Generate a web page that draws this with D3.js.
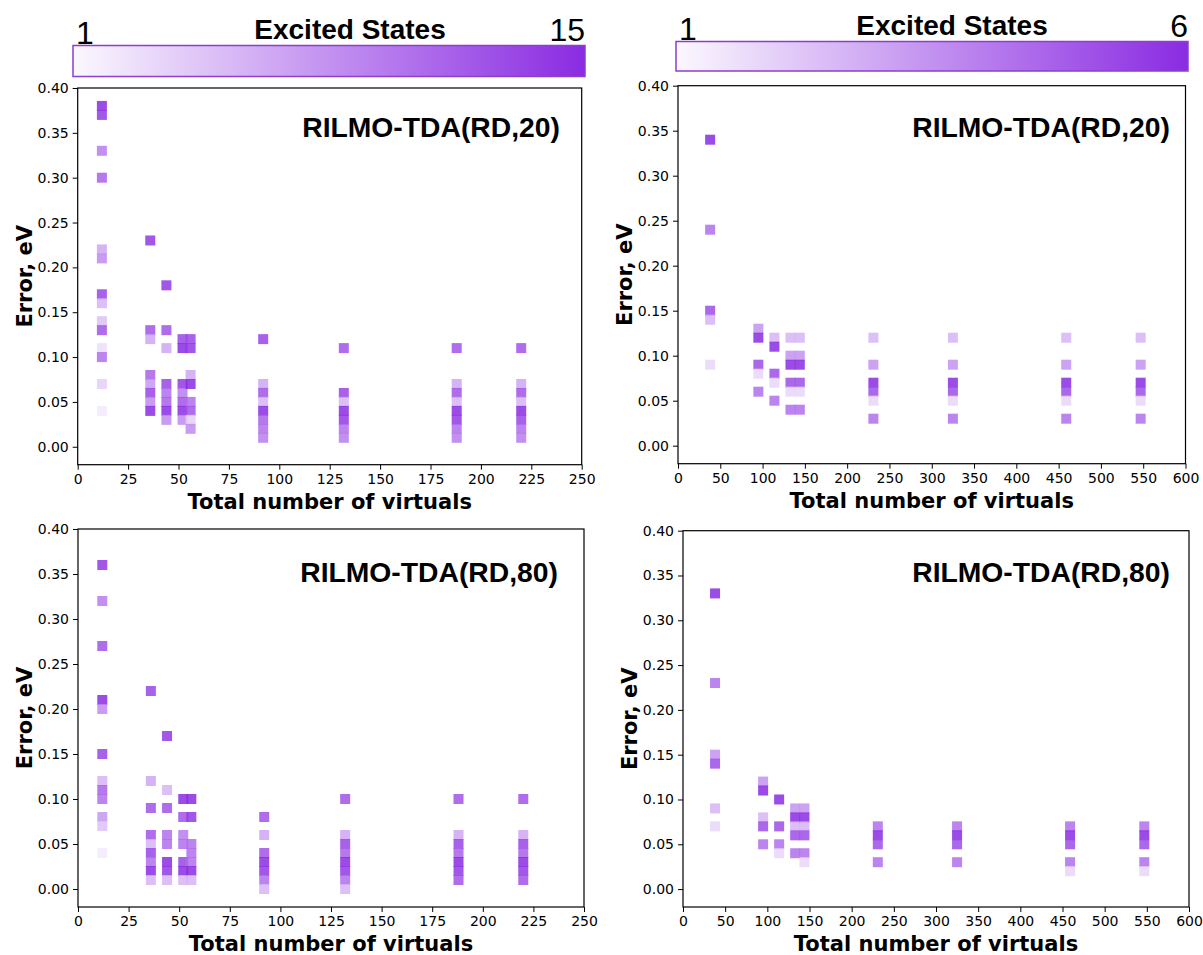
<!DOCTYPE html>
<html>
<head>
<meta charset="utf-8">
<script src="https://cdn.jsdelivr.net/npm/d3@7"></script>
<style>
  body { margin: 0; background: #fff; }
</style>
</head>
<body>
<div id="chart"></div>
<script>
// Each point: [total number of virtuals, error in eV, excited state index]
const topLeftPoints = [
    [12, 0.38, 15], [12, 0.37, 14], [12, 0.33, 9], [12, 0.30, 11], [12, 0.22, 6], [12, 0.21, 8],
    [12, 0.17, 13], [12, 0.16, 5], [12, 0.14, 4], [12, 0.13, 12], [12, 0.11, 2], [12, 0.10, 10],
    [12, 0.07, 3], [12, 0.04, 1],
    [36, 0.23, 14], [36, 0.13, 12], [36, 0.12, 6], [36, 0.08, 11], [36, 0.07, 7], [36, 0.06, 13],
    [36, 0.05, 8], [36, 0.04, 15],
    [44, 0.18, 14], [44, 0.13, 12], [44, 0.11, 6], [44, 0.07, 13], [44, 0.06, 10], [44, 0.05, 11],
    [44, 0.04, 15], [44, 0.03, 8],
    [52, 0.12, 13], [52, 0.11, 15], [52, 0.07, 14], [52, 0.06, 9], [52, 0.05, 12], [52, 0.04, 15],
    [52, 0.03, 8],
    [56, 0.12, 13], [56, 0.11, 14], [56, 0.08, 6], [56, 0.07, 15], [56, 0.05, 10], [56, 0.04, 12],
    [56, 0.03, 3], [56, 0.02, 8],
    [92, 0.12, 13], [92, 0.07, 6], [92, 0.06, 12], [92, 0.05, 5], [92, 0.04, 15], [92, 0.03, 11],
    [92, 0.02, 10], [92, 0.01, 9],
    [132, 0.11, 12], [132, 0.06, 13], [132, 0.05, 5], [132, 0.04, 15], [132, 0.03, 14],
    [132, 0.02, 10], [132, 0.01, 9],
    [188, 0.11, 12], [188, 0.07, 6], [188, 0.06, 12], [188, 0.05, 5], [188, 0.04, 15],
    [188, 0.03, 14], [188, 0.02, 10], [188, 0.01, 9],
    [220, 0.11, 12], [220, 0.07, 6], [220, 0.06, 12], [220, 0.05, 5], [220, 0.04, 15],
    [220, 0.03, 13], [220, 0.02, 10], [220, 0.01, 9]
];

const topRightPoints = [
    [38, 0.34, 6], [38, 0.24, 4], [38, 0.15, 5], [38, 0.14, 2], [38, 0.09, 1],
    [95, 0.13, 3], [95, 0.12, 6], [95, 0.09, 5], [95, 0.08, 1], [95, 0.06, 4],
    [114, 0.12, 2], [114, 0.11, 6], [114, 0.08, 5], [114, 0.07, 1], [114, 0.05, 4],
    [133, 0.12, 2], [133, 0.10, 3], [133, 0.09, 6], [133, 0.07, 5], [133, 0.06, 1], [133, 0.04, 4],
    [144, 0.12, 2], [144, 0.10, 3], [144, 0.09, 6], [144, 0.07, 5], [144, 0.06, 1], [144, 0.04, 4],
    [231, 0.12, 2], [231, 0.09, 3], [231, 0.07, 6], [231, 0.06, 5], [231, 0.05, 1], [231, 0.03, 4],
    [325, 0.12, 2], [325, 0.09, 3], [325, 0.07, 6], [325, 0.06, 5], [325, 0.05, 1], [325, 0.03, 4],
    [459, 0.12, 2], [459, 0.09, 3], [459, 0.07, 6], [459, 0.06, 5], [459, 0.05, 1], [459, 0.03, 4],
    [547, 0.12, 2], [547, 0.09, 3], [547, 0.07, 6], [547, 0.06, 5], [547, 0.05, 1], [547, 0.03, 4]
];

const bottomLeftPoints = [
    [12, 0.36, 14], [12, 0.32, 9], [12, 0.27, 12], [12, 0.21, 15], [12, 0.20, 8], [12, 0.15, 13],
    [12, 0.12, 5], [12, 0.11, 11], [12, 0.10, 10], [12, 0.08, 7], [12, 0.07, 4], [12, 0.04, 1],
    [36, 0.22, 13], [36, 0.12, 6], [36, 0.09, 12], [36, 0.06, 12], [36, 0.05, 5], [36, 0.04, 13],
    [36, 0.03, 10], [36, 0.02, 15], [36, 0.01, 5],
    [44, 0.17, 14], [44, 0.11, 5], [44, 0.09, 12], [44, 0.06, 10], [44, 0.05, 10], [44, 0.03, 15],
    [44, 0.02, 14], [44, 0.01, 5],
    [52, 0.10, 15], [52, 0.08, 12], [52, 0.06, 9], [52, 0.05, 10], [52, 0.03, 13], [52, 0.02, 15],
    [52, 0.01, 5],
    [56, 0.10, 15], [56, 0.08, 14], [56, 0.05, 10], [56, 0.04, 10], [56, 0.03, 10], [56, 0.02, 15],
    [56, 0.01, 5],
    [92, 0.08, 12], [92, 0.06, 6], [92, 0.04, 12], [92, 0.03, 15], [92, 0.02, 14], [92, 0.01, 10],
    [92, 0.00, 5],
    [132, 0.10, 12], [132, 0.06, 6], [132, 0.05, 13], [132, 0.04, 11], [132, 0.03, 15],
    [132, 0.02, 14], [132, 0.01, 10], [132, 0.00, 5],
    [188, 0.10, 12], [188, 0.06, 6], [188, 0.05, 13], [188, 0.04, 11], [188, 0.03, 15],
    [188, 0.02, 14], [188, 0.01, 12],
    [220, 0.10, 12], [220, 0.06, 6], [220, 0.05, 13], [220, 0.04, 11], [220, 0.03, 15],
    [220, 0.02, 14], [220, 0.01, 12]
];

const bottomRightPoints = [
    [38, 0.33, 6], [38, 0.23, 4], [38, 0.15, 3], [38, 0.14, 5], [38, 0.09, 2], [38, 0.07, 1],
    [95, 0.12, 3], [95, 0.11, 6], [95, 0.08, 2], [95, 0.07, 5], [95, 0.05, 4],
    [114, 0.10, 6], [114, 0.07, 5], [114, 0.05, 4], [114, 0.04, 1],
    [133, 0.09, 3], [133, 0.08, 6], [133, 0.07, 2], [133, 0.06, 5], [133, 0.04, 4],
    [144, 0.09, 3], [144, 0.08, 6], [144, 0.07, 2], [144, 0.06, 5], [144, 0.04, 4], [144, 0.03, 1],
    [231, 0.07, 4], [231, 0.06, 6], [231, 0.05, 5], [231, 0.03, 4],
    [325, 0.07, 4], [325, 0.06, 6], [325, 0.05, 5], [325, 0.03, 4],
    [459, 0.07, 4], [459, 0.06, 6], [459, 0.05, 5], [459, 0.03, 4], [459, 0.02, 1],
    [547, 0.07, 4], [547, 0.06, 6], [547, 0.05, 5], [547, 0.03, 4], [547, 0.02, 1]
];

// Tick values
const yTicks = [0.00, 0.05, 0.10, 0.15, 0.20, 0.25, 0.30, 0.35, 0.40];
const leftXTicks = [0, 25, 50, 75, 100, 125, 150, 175, 200, 225, 250];
const rightXTicks = [0, 50, 100, 150, 200, 250, 300, 350, 400, 450, 500, 550, 600];

const lowColor = "#fbf8fe";
const highColor = "#8a2be2";

const svg = d3.select("#chart")
    .append("svg")
    .attr("width", 1203)
    .attr("height", 955)
    .style("background", "#fff");

// Draw one scatter panel
function drawPanel(cfg) {
    const xScale = d3.scaleLinear()
        .domain([0, cfg.xMax])
        .range([cfg.left, cfg.right]);

    const yScale = d3.scaleLinear()
        .domain([-0.02, 0.40])
        .range([cfg.bottom, cfg.top]);

    // markers: state 1 is already a faint lavender, top state is full violet
    const color = d3.scaleLinear()
        .domain([0, cfg.nStates])
        .range([lowColor, highColor]);

    const g = svg.append("g");

    //Squares for each excited state
    const size = 10;
    g.selectAll(".pt")
        .data(cfg.points)
        .enter()
        .append("rect")
        .attr("class", "pt")
        .attr("x", d => xScale(d[0]) - size / 2)
        .attr("y", d => yScale(d[1]) - size / 2)
        .attr("width", size)
        .attr("height", size)
        .attr("fill", d => color(d[2]))
        .attr("fill-opacity", 0.85);

    //Axes
    const xAxis = d3.axisBottom(xScale)
        .tickValues(cfg.xTicks)
        .tickFormat(d3.format("d"))
        .tickSize(5)
        .tickPadding(4)
        .tickSizeOuter(0);

    const yAxis = d3.axisLeft(yScale)
        .tickValues(yTicks)
        .tickFormat(d3.format(".2f"))
        .tickSize(5)
        .tickPadding(4)
        .tickSizeOuter(0);

    const gx = g.append("g")
        .attr("transform", `translate(0, ${cfg.bottom})`)
        .call(xAxis);

    const gy = g.append("g")
        .attr("transform", `translate(${cfg.left}, 0)`)
        .call(yAxis);

    [gx, gy].forEach(a => {
        a.selectAll("text")
            .style("font-family", "DejaVu Sans")
            .style("font-size", "14px")
            .attr("fill", "#000");
        a.selectAll("line").attr("stroke", "#000");
        a.select(".domain").remove();
    });

    //Frame
    g.append("rect")
        .attr("x", cfg.left)
        .attr("y", cfg.top)
        .attr("width", cfg.right - cfg.left)
        .attr("height", cfg.bottom - cfg.top)
        .attr("fill", "none")
        .attr("stroke", "#000")
        .attr("stroke-width", 1.2);

    //Labels
    g.append("text")
        .attr("x", (cfg.left + cfg.right) / 2)
        .attr("y", cfg.bottom + 44)
        .attr("text-anchor", "middle")
        .style("font-family", "DejaVu Sans")
        .style("font-weight", "bold")
        .style("font-size", "21px")
        .text("Total number of virtuals");

    g.append("text")
        .attr("transform", `translate(${cfg.left - 46}, ${(cfg.top + cfg.bottom) / 2}) rotate(-90)`)
        .attr("text-anchor", "middle")
        .style("font-family", "DejaVu Sans")
        .style("font-weight", "bold")
        .style("font-size", "21px")
        .text("Error, eV");

    g.append("text")
        .attr("x", cfg.titleX)
        .attr("y", cfg.titleY)
        .attr("text-anchor", "end")
        .style("font-family", "Liberation Sans, Arial, sans-serif")
        .style("font-weight", "bold")
        .style("font-size", "28.3px")
        .text(cfg.title);
}

// Draw a horizontal colour bar
function drawColorbar(cfg) {
    const id = "grad" + cfg.maxLabel;
    const grad = svg.append("defs")
        .append("linearGradient")
        .attr("id", id)
        .attr("x1", "0%").attr("x2", "100%");
    grad.append("stop").attr("offset", "0%").attr("stop-color", lowColor);
    grad.append("stop").attr("offset", "100%").attr("stop-color", highColor);

    svg.append("rect")
        .attr("x", cfg.x)
        .attr("y", cfg.y)
        .attr("width", cfg.w)
        .attr("height", cfg.h)
        .attr("fill", `url(#${id})`)
        .attr("stroke", "#8a3fd0")
        .attr("stroke-width", 1.5);

    svg.append("text")
        .attr("x", cfg.x + 3)
        .attr("y", cfg.y - 2)
        .style("font-family", "Liberation Sans, Arial, sans-serif")
        .style("font-size", "32px")
        .text("1");

    svg.append("text")
        .attr("x", cfg.x + cfg.w)
        .attr("y", cfg.y - 5)
        .attr("text-anchor", "end")
        .style("font-family", "Liberation Sans, Arial, sans-serif")
        .style("font-size", "32px")
        .text(cfg.maxLabel);

    svg.append("text")
        .attr("x", cfg.titleX)
        .attr("y", cfg.y - 7)
        .attr("text-anchor", "middle")
        .style("font-family", "Liberation Sans, Arial, sans-serif")
        .style("font-weight", "bold")
        .style("font-size", "28px")
        .text("Excited States");
}

drawColorbar({ x: 73, y: 45.5, w: 512, h: 31, maxLabel: "15", titleX: 350 });
drawColorbar({ x: 676, y: 41.5, w: 512, h: 29.5, maxLabel: "6", titleX: 952 });

drawPanel({ points: topLeftPoints, nStates: 15, xMax: 250, xTicks: leftXTicks,
    left: 77.7, right: 581.7, top: 88, bottom: 464.7,
    title: "RILMO-TDA(RD,20)", titleX: 560, titleY: 137 });
drawPanel({ points: topRightPoints, nStates: 6, xMax: 600, xTicks: rightXTicks,
    left: 678, right: 1185.5, top: 85.7, bottom: 463.7,
    title: "RILMO-TDA(RD,20)", titleX: 1170, titleY: 137 });
drawPanel({ points: bottomLeftPoints, nStates: 15, xMax: 250, xTicks: leftXTicks,
    left: 78, right: 584, top: 529, bottom: 907,
    title: "RILMO-TDA(RD,80)", titleX: 558, titleY: 582 });
drawPanel({ points: bottomRightPoints, nStates: 6, xMax: 600, xTicks: rightXTicks,
    left: 683, right: 1189, top: 530.7, bottom: 907,
    title: "RILMO-TDA(RD,80)", titleX: 1170, titleY: 582 });
</script>
</body>
</html>
